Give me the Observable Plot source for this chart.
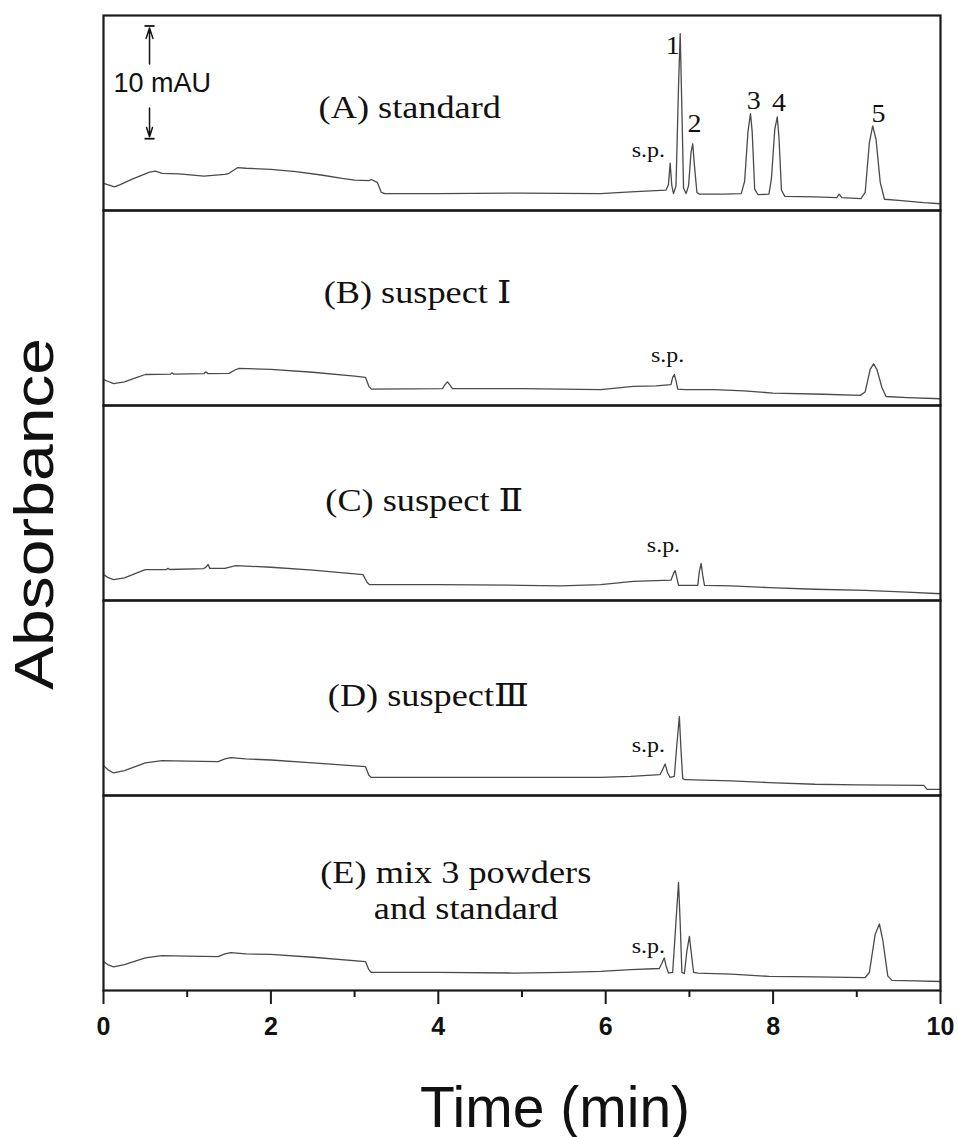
<!DOCTYPE html>
<html><head><meta charset="utf-8">
<script src="https://cdn.jsdelivr.net/npm/d3@7"></script>
<script src="https://cdn.jsdelivr.net/npm/@observablehq/plot@0.6"></script>
<style>html,body{margin:0;padding:0;background:#fff;}</style>
</head><body><div id="chart"></div>
<script>
// ---- Data (time in min, absorbance in mAU above panel floor) ----
const panels = ["A", "B", "C", "D", "E"];

const traceA = [[0,2.4],[0.05,2.3],[0.13,2.1],[0.2,2.3],[0.35,2.8],[0.55,3.4],[0.62,3.5],[0.7,3.3],[0.9,3.25],[1.2,3.05],[1.45,3.2],[1.5,3.3],[1.6,3.8],[1.7,3.75],[2.0,3.65],[2.3,3.45],[2.6,3.15],[2.85,2.85],[3.0,2.7],[3.17,2.65],[3.2,2.75],[3.24,2.6],[3.27,2.5],[3.32,1.6],[3.36,1.5],[4.0,1.5],[5.0,1.55],[5.94,1.5],[6.3,1.65],[6.72,1.8],[6.75,2.3],[6.77,4.2],[6.79,2.2],[6.81,1.5],[6.84,2.2],[6.87,11],[6.89,15.7],[6.91,9],[6.93,2.0],[6.96,1.5],[6.99,2.2],[7.02,5.2],[7.04,5.9],[7.06,4.0],[7.09,1.6],[7.12,1.45],[7.4,1.45],[7.62,1.5],[7.66,2.6],[7.7,7.0],[7.73,8.6],[7.75,7.0],[7.78,1.9],[7.82,1.4],[7.95,1.45],[7.98,2.8],[8.02,7.2],[8.05,8.3],[8.07,6.5],[8.1,1.8],[8.14,1.25],[8.5,1.2],[8.76,1.15],[8.79,1.45],[8.82,1.15],[9.05,1.06],[9.1,1.6],[9.15,6.0],[9.19,7.5],[9.23,6.3],[9.28,2.5],[9.33,1.0],[9.5,0.9],[9.8,0.7],[10,0.6]];
const traceB = [[0,2.3],[0.05,2.15],[0.12,1.95],[0.25,2.1],[0.4,2.5],[0.5,2.75],[0.8,2.78],[0.82,2.9],[0.84,2.78],[1.2,2.82],[1.22,2.98],[1.25,2.83],[1.5,2.85],[1.57,3.15],[1.62,3.3],[2.0,3.2],[2.5,2.95],[3.0,2.6],[3.13,2.5],[3.17,1.7],[3.2,1.45],[4.05,1.5],[4.08,1.85],[4.11,2.1],[4.14,1.8],[4.17,1.5],[5.0,1.5],[5.94,1.4],[6.33,1.7],[6.6,1.75],[6.78,1.85],[6.8,2.5],[6.82,2.75],[6.84,2.2],[6.86,1.45],[6.95,1.4],[7.3,1.4],[7.65,1.3],[8.0,1.1],[8.6,1.0],[9.04,0.9],[9.1,1.2],[9.16,3.2],[9.2,3.7],[9.24,3.2],[9.3,1.6],[9.35,0.8],[9.6,0.7],[10,0.6]];
const traceC = [[0,2.3],[0.05,2.05],[0.12,1.86],[0.25,2.0],[0.4,2.45],[0.5,2.74],[0.75,2.75],[0.77,2.85],[0.79,2.75],[1.2,2.83],[1.23,3.0],[1.25,3.2],[1.27,2.85],[1.45,2.85],[1.58,3.1],[2.0,2.95],[2.5,2.7],[3.1,2.3],[3.15,1.6],[3.18,1.4],[4.0,1.4],[5.0,1.35],[5.46,1.3],[5.94,1.4],[6.33,1.7],[6.78,1.8],[6.81,2.4],[6.83,2.65],[6.85,2.0],[6.87,1.35],[7.1,1.35],[7.12,2.6],[7.14,3.3],[7.16,2.2],[7.18,1.35],[7.5,1.3],[7.95,1.15],[8.5,1.0],[9.1,0.9],[9.6,0.75],[10,0.6]];
const traceD = [[0,2.65],[0.05,2.3],[0.12,2.0],[0.25,2.2],[0.5,2.9],[0.7,3.1],[1.0,3.05],[1.37,3.0],[1.45,3.25],[1.52,3.36],[1.7,3.25],[2.0,3.15],[2.5,2.9],[3.13,2.57],[3.17,1.8],[3.2,1.6],[4.0,1.6],[5.0,1.6],[5.94,1.6],[6.3,1.7],[6.65,1.86],[6.68,2.3],[6.71,2.8],[6.74,2.0],[6.77,1.6],[6.82,1.7],[6.85,4.5],[6.88,7.0],[6.9,4.0],[6.92,1.5],[6.95,1.4],[7.5,1.3],[7.95,1.15],[8.5,1.0],[9.0,0.95],[9.8,0.9],[9.84,0.55],[10,0.55]];
const traceE = [[0,2.57],[0.05,2.3],[0.12,2.1],[0.25,2.3],[0.5,2.9],[0.7,3.1],[1.0,3.05],[1.37,3.0],[1.45,3.25],[1.52,3.36],[1.7,3.25],[2.0,3.2],[2.5,2.95],[3.13,2.57],[3.17,1.85],[3.2,1.6],[4.0,1.6],[4.9,1.55],[5.5,1.6],[5.94,1.7],[6.3,1.85],[6.64,1.95],[6.67,2.4],[6.7,2.9],[6.72,2.2],[6.75,1.55],[6.8,1.6],[6.83,5.0],[6.87,9.6],[6.89,6.0],[6.91,1.6],[6.94,1.5],[6.97,3.5],[7.0,4.8],[7.02,3.5],[7.05,1.6],[7.1,1.55],[7.5,1.45],[7.95,1.25],[8.5,1.2],[9.1,1.15],[9.15,1.6],[9.22,5.0],[9.27,5.9],[9.31,4.5],[9.37,1.3],[9.42,0.9],[9.7,0.85],[10,0.8]];
const traces = [traceA, traceB, traceC, traceD, traceE];

// panel titles
const titlePanel = ["A", "B", "C", "D", "E", "E"];
const titleText  = ["(A) standard", "(B) suspect Ⅰ", "(C) suspect Ⅱ", "(D) suspectⅢ", "(E) mix 3 powders", "and standard"];
const titleTime  = [2.57, 2.63, 2.65, 2.68, 2.59, 3.23];
const titleValue = [9.1, 10.0, 8.85, 8.85, 10.4, 7.2];

// peak numbers (panel A)
const peakText  = ["1", "2", "3", "4", "5"];
const peakTime  = [6.8, 7.06, 7.77, 8.07, 9.26];
const peakValue = [14.6, 7.7, 9.7, 9.6, 8.6];

// s.p. labels
const spPanel = ["A", "B", "C", "D", "E"];
const spTime  = [6.51, 6.74, 6.69, 6.51, 6.51];
const spValue = [5.3, 4.5, 4.87, 4.5, 3.9];

// 10 mAU scale bar (panel A)
const scaleTime = 0.55;
const scaleTop = 16.37, scaleBottom = 6.37;
const arrowFrom = [13.0, 9.1];
const arrowTo   = [16.2, 6.55];
const scaleLabel = "10 mAU";
const scaleLabelTime = 0.12, scaleLabelValue = 11.3;

const majorTicks = [0, 2, 4, 6, 8, 10];
const minorTicks = [1, 3, 5, 7, 9];

// ---- Build tables ----
const traceRows = traces.flatMap((tr, i) => tr.map(([t, v]) => ({panel: panels[i], t, v})));
const titleRows = titleText.map((text, i) => ({panel: titlePanel[i], text, t: titleTime[i], v: titleValue[i]}));
const peakRows = peakText.map((text, i) => ({panel: "A", text, t: peakTime[i], v: peakValue[i]}));
const spRows = spPanel.map((p, i) => ({panel: p, text: "s.p.", t: spTime[i], v: spValue[i]}));
const arrowRows = arrowFrom.map((a, i) => ({panel: "A", x: scaleTime, y1: a, y2: arrowTo[i]}));
const barRows = [scaleTop, scaleBottom].map(v => ({panel: "A", x1: scaleTime - 0.06, x2: scaleTime + 0.06, v}));

const serif = "'Liberation Serif', 'Times New Roman', 'DejaVu Serif', serif";
const sans = "'Liberation Sans', Arial, Helvetica, sans-serif";

const plot = Plot.plot({
  width: 958, height: 1137,
  marginTop: 13, marginLeft: 103, marginRight: 18, marginBottom: 146,
  style: {fontFamily: serif, background: "white", overflow: "visible", color: "#111"},
  x: {domain: [0, 10]},
  y: {domain: [0, 17.3], axis: null},
  fy: {domain: panels, padding: 0, axis: null},
  marks: [
    Plot.line(traceRows, {x: "t", y: "v", fy: "panel", z: "panel", stroke: "#4a4a4a", strokeWidth: 1.3}),
    Plot.frame({stroke: "#1a1a1a", strokeWidth: 2.2}),
    Plot.text(titleRows, {x: "t", y: "v", fy: "panel", text: "text", textAnchor: "start", fontSize: 31, fill: "#111", ariaLabel: () => "panel-title"}),
    Plot.text(peakRows, {x: "t", y: "v", fy: "panel", text: "text", fontSize: 26, fill: "#111", ariaLabel: () => "peak-number"}),
    Plot.text(spRows, {x: "t", y: "v", fy: "panel", text: "text", fontSize: 21, fill: "#111", ariaLabel: () => "sp-label"}),
    Plot.arrow(arrowRows, {x1: "x", x2: "x", y1: "y1", y2: "y2", fy: "panel", stroke: "#111", strokeWidth: 1.5, headLength: 11, headAngle: 36}),
    Plot.link(barRows, {x1: "x1", x2: "x2", y1: "v", y2: "v", fy: "panel", stroke: "#111", strokeWidth: 1.8}),
    Plot.text([{panel: "A", t: scaleLabelTime, v: scaleLabelValue, text: scaleLabel}], {x: "t", y: "v", fy: "panel", text: "text", textAnchor: "start", fontSize: 27, fontFamily: sans, fill: "#111"}),
    Plot.axisX({ticks: majorTicks, tickSize: 14, tickPadding: 13, tickFormat: d => String(d), fontSize: 25, fontWeight: "bold", fontFamily: sans, label: null, stroke: "#1a1a1a", strokeWidth: 2, fill: "#111"}),
    Plot.axisX({ticks: minorTicks, tickSize: 7, tickFormat: () => "", label: null, stroke: "#1a1a1a", strokeWidth: 2})
  ]
});

document.getElementById("chart").append(plot);
const svg = d3.select(plot);

function stretch(name, factor) {
  svg.selectAll("text").filter(function () {
    return this.getAttribute("aria-label") === name || (this.parentNode && this.parentNode.getAttribute && this.parentNode.getAttribute("aria-label") === name);
  }).each(function () {
    const w = this.getComputedTextLength();
    this.setAttribute("textLength", (w * factor).toFixed(1));
    this.setAttribute("lengthAdjust", "spacingAndGlyphs");
  });
}
stretch("panel-title", 1.17);
stretch("peak-number", 1.08);
stretch("sp-label", 1.14);

// axis titles
svg.append("text")
  .attr("transform", "translate(53,514) rotate(-90)")
  .attr("text-anchor", "middle")
  .attr("font-family", sans).attr("font-size", 56).attr("fill", "#111")
  .attr("textLength", 352).attr("lengthAdjust", "spacingAndGlyphs")
  .text("Absorbance");
svg.append("text")
  .attr("x", 555).attr("y", 1127)
  .attr("text-anchor", "middle")
  .attr("font-family", sans).attr("font-size", 57).attr("fill", "#111")
  .text("Time (min)");
</script>
</body></html>
